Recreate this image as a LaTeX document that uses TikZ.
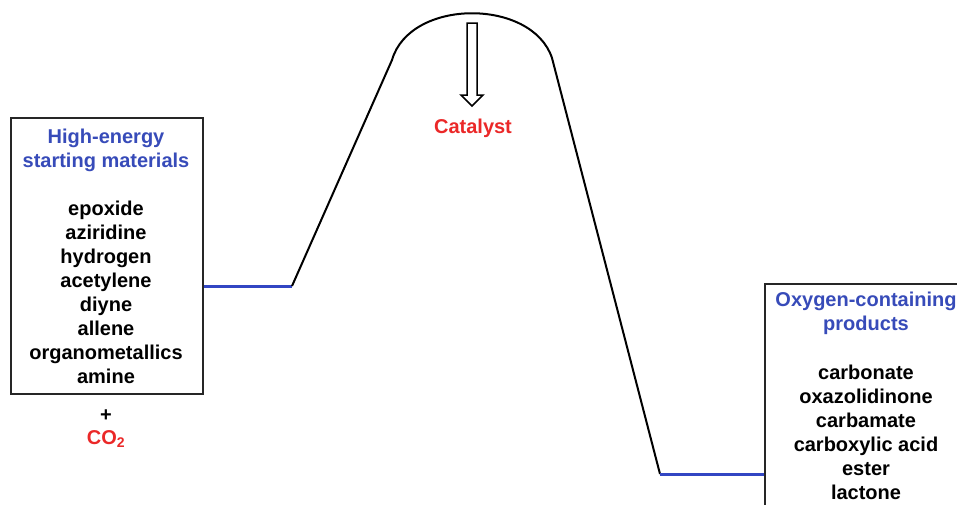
\documentclass[tikz,border=0pt]{standalone}
\usepackage{fontspec}
\setmainfont{Liberation Sans}
\definecolor{ttlblue}{RGB}{55,75,185}
\definecolor{lvlblue}{RGB}{50,70,195}
\definecolor{catred}{RGB}{235,40,40}
\tikzset{
  box/.style={draw=black!85, line width=2pt, inner sep=0pt},
  lbl/.style={font=\fontsize{20}{24}\selectfont\bfseries, align=center, anchor=base, inner sep=0pt},
  level/.style={draw=lvlblue, line width=3pt},
  profile/.style={draw=black, line width=2pt, line join=round},
}
\begin{document}
\begin{tikzpicture}[x=1pt,y=-1pt]
\useasboundingbox (0,0) rectangle (957,504);
\clip (0,0) rectangle (957,504);
\fill[white] (0,0) rectangle (957,504);
% boxes
\node[box, minimum width=192pt, minimum height=276pt, anchor=north west] (hi) at (10,117) {};
\node[box, minimum width=260pt, minimum height=300pt, anchor=north west] (prod) at (764,283) {};
% profile
\coordinate (a) at (292,286);
\coordinate (b) at (392,60);
\coordinate (c) at (552,58);
\coordinate (d) at (660,474);
\draw[level] (hi.east |- a) -- (a);
\draw[profile] (a) -- (b) .. controls (410,-2) and (532,-2) .. (c) -- (d);
\draw[level] (d) -- (prod.west |- d);
% catalyst arrow
\draw[line width=1.5pt, fill=white, line join=miter] (467,23) -- (477,23) -- (477,95) -- (483,95) -- (472,106) -- (461,95) -- (467,95) -- cycle;
\node[lbl, text=catred] (cat) at (473,133) {Catalyst};
% left texts (base = last line)
\node[lbl, text=ttlblue] (hit) at (106,167) {High-energy\\starting materials};
\node[lbl] (hil) at (106,383) {epoxide\\aziridine\\hydrogen\\acetylene\\diyne\\allene\\organometallics\\amine};
\node[lbl] (plus) at (106,421) {+};
\node[lbl, text=catred] (co2) at (106,444) {CO\textsubscript{2}};
% right texts
\node[lbl, text=ttlblue] (prt) at (866,330) {Oxygen-containing\\products};
\node[lbl] (prl) at (866,499) {carbonate\\oxazolidinone\\carbamate\\carboxylic acid\\ester\\lactone};
\end{tikzpicture}
\end{document}
